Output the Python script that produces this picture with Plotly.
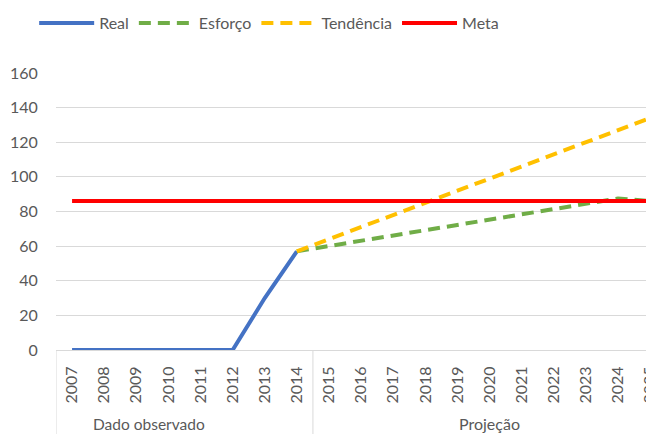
import plotly.graph_objects as go

anos = [str(a) for a in range(2007, 2026)]
real = [0, 0, 0, 0, 0, 0, 30, 57] + [None] * 11
esforco = [None] * 7 + [57, 60, 63, 66, 69, 72, 75, 78, 81, 84.5, 87.5, 86]
tendencia = [None] * 7 + [57, 64, 71, 78, 85, 92, 99, 106, 113, 120, 127, 134]
meta = [86] * 19
grupos = ["Dado observado", "Projeção"]

cinza = "#595959"
fonte = "Lato"

fig = go.Figure()
fig.add_trace(go.Scatter(x=anos, y=real, name="Real", mode="lines",
                         line=dict(color="#4472C4", width=4)))
fig.add_trace(go.Scatter(x=anos, y=esforco, name="Esforço", mode="lines",
                         line=dict(color="#70AD47", width=4, dash="12px,7px")))
fig.add_trace(go.Scatter(x=anos, y=tendencia, name="Tendência", mode="lines",
                         line=dict(color="#FFC000", width=4, dash="12px,7px")))
fig.add_trace(go.Scatter(x=anos, y=meta, name="Meta", mode="lines",
                         line=dict(color="#FF0000", width=4)))

# linhas divisórias do eixo de categorias em dois níveis
for xd in [-0.5, 7.5]:
    fig.add_shape(type="line", xref="x", yref="paper", x0=xd, x1=xd, y0=0, y1=-0.31,
                  line=dict(color="#D9D9D9", width=1))

fig.add_annotation(x=2.4, y=-0.267, xref="x", yref="paper", text=grupos[0],
                   showarrow=False, yanchor="middle", font=dict(family=fonte, size=15.5, color=cinza))
fig.add_annotation(x=13, y=-0.267, xref="x", yref="paper", text=grupos[1],
                   showarrow=False, yanchor="middle", font=dict(family=fonte, size=16, color=cinza))

fig.update_layout(
    width=646, height=426,
    margin=dict(l=48, r=0, t=65, b=84),
    plot_bgcolor="white", paper_bgcolor="white",
    font=dict(family=fonte, size=16, color=cinza),
    legend=dict(orientation="h", xref="container", yref="container",
                x=0.0405, xanchor="left", y=0.9648, yanchor="middle",
                itemwidth=55, font=dict(size=16)),
    xaxis=dict(type="category", range=[-0.5, 18.12], tickangle=-90, showgrid=False,
               showline=True, linecolor="#D9D9D9", linewidth=1,
               ticks="outside", ticklen=9, tickcolor="rgba(0,0,0,0)", automargin=False),
    yaxis=dict(range=[0, 160], dtick=20, showgrid=True, gridcolor="#D9D9D9",
               zeroline=False, ticks="outside", ticklen=14, tickcolor="rgba(0,0,0,0)",
               automargin=False),
)

fig.write_html("out.html")
